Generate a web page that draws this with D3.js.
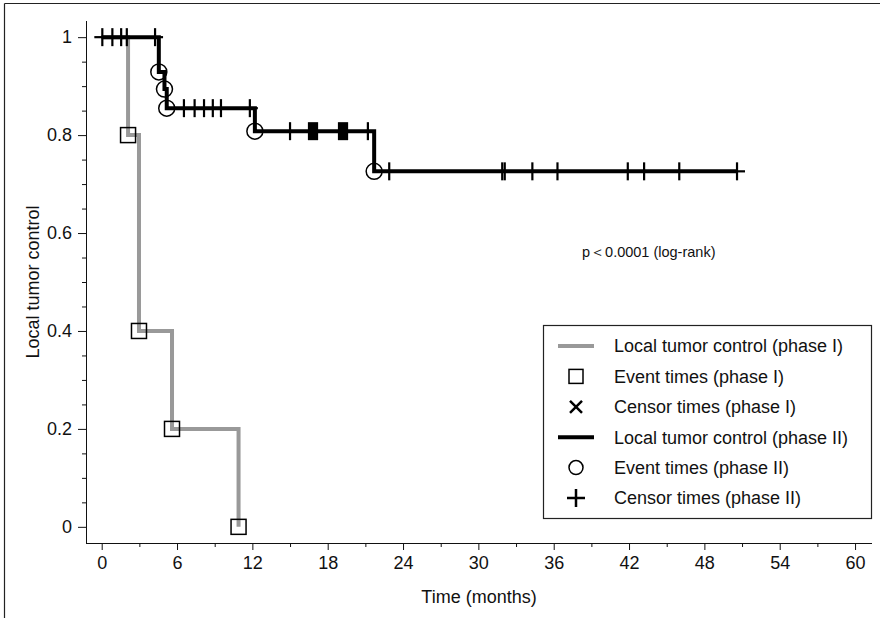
<!DOCTYPE html>
<html>
<head>
<meta charset="utf-8">
<script src="https://cdn.jsdelivr.net/npm/d3@7"></script>
<style>
  html, body { margin: 0; padding: 0; background: #fff; }
  svg { display: block; font-family: "Liberation Sans", Arial, Helvetica, sans-serif; }
</style>
</head>
<body>
<svg id="chart" width="880" height="618"></svg>
<script>
// ---------------- data ----------------
const xTicks = [0, 6, 12, 18, 24, 30, 36, 42, 48, 54, 60];
const yTicks = [0, 0.2, 0.4, 0.6, 0.8, 1];
const yTickLabels = ["0", "0.2", "0.4", "0.6", "0.8", "1"];

// Phase I: Kaplan-Meier steps (event times and survival after each event)
const phase1EventTimes = [2.1, 2.97, 5.6, 10.9];
const phase1EventValues = [0.8, 0.4, 0.2, 0];
const phase1CensorTimes = [];

// Phase II
const phase2EventTimes = [4.55, 5.0, 5.18, 12.2, 21.7];
const phase2EventValues = [0.929, 0.894, 0.855, 0.808, 0.726];
const phase2CensorTimes = [0.05, 0.85, 1.55, 2.0, 4.25, 6.55, 7.4, 8.15, 8.85, 9.5, 11.8,
  15.0, 16.51, 16.67, 16.83, 16.99, 17.15, 18.9, 19.06, 19.22, 19.38, 19.54, 21.2, 22.9,
  31.9, 32.1, 34.3, 36.3, 41.9, 43.2, 46.0, 50.6];

const legendLabels = [
  "Local tumor control (phase I)",
  "Event times (phase I)",
  "Censor times (phase I)",
  "Local tumor control (phase II)",
  "Event times (phase II)",
  "Censor times (phase II)"
];
const pText = "p\uFF1C0.0001 (log-rank)";
const xTitle = "Time (months)";
const yTitle = "Local tumor control";

// ---------------- helpers ----------------
function stepPoints(times, values, endTime) {
  const pts = [[0, 1]];
  let cur = 1;
  times.forEach((t, i) => { pts.push([t, cur]); cur = values[i]; pts.push([t, cur]); });
  if (endTime != null && endTime > times[times.length - 1]) pts.push([endTime, cur]);
  return pts;
}
function survAt(times, values, t) {
  let v = 1;
  times.forEach((et, i) => { if (et <= t) v = values[i]; });
  return v;
}

// ---------------- drawing ----------------
const svg = d3.select("#chart");
const GRAY = "#999999";

// frame lines
svg.append("line").attr("x1", 4.5).attr("x2", 880).attr("y1", 3.5).attr("y2", 3.5)
  .attr("stroke", "#222").attr("stroke-width", 1.2);
svg.append("line").attr("x1", 4.5).attr("x2", 4.5).attr("y1", 3.5).attr("y2", 618)
  .attr("stroke", "#222").attr("stroke-width", 1.2);

const x = d3.scaleLinear().domain([-1.25, 61.35]).range([86, 872]);
const y = d3.scaleLinear().domain([-0.033, 1.033]).range([543, 21]);

// axes
const xAxis = d3.axisBottom(x).tickValues(xTicks).tickSize(7).tickPadding(6).tickSizeOuter(0)
  .tickFormat(d3.format("d"));
const gx = svg.append("g").attr("transform", "translate(0,543)").call(xAxis);
gx.select(".domain").attr("d", "M86,0.5H872");
svg.append("g").attr("transform", "translate(0,543)")
  .call(d3.axisBottom(x).tickValues(d3.range(3, 61, 6)).tickSize(4).tickFormat("").tickSizeOuter(0))
  .select(".domain").remove();

const yAxis = d3.axisLeft(y).tickValues(yTicks).tickSize(8).tickPadding(6).tickSizeOuter(0)
  .tickFormat((d, i) => yTickLabels[i]);
const gy = svg.append("g").attr("transform", "translate(86,0)").call(yAxis);
gy.select(".domain").attr("d", "M0.5,21V543");
const minorY = d3.range(0, 21).map(i => i * 0.05).filter(v => Math.abs((v * 5) - Math.round(v * 5)) > 1e-6);
svg.append("g").attr("transform", "translate(86,0)")
  .call(d3.axisLeft(y).tickValues(minorY).tickSize(4).tickFormat("").tickSizeOuter(0))
  .select(".domain").remove();

svg.selectAll(".tick text").attr("font-size", 18).attr("fill", "#111")
  .attr("font-family", "'Liberation Sans', Arial, sans-serif");
svg.selectAll(".tick line, .domain").attr("stroke", "#111");

// axis titles
svg.append("text").attr("x", 479).attr("y", 603).attr("text-anchor", "middle")
  .attr("font-size", 18).attr("fill", "#111").text(xTitle);
svg.append("text").attr("transform", "translate(39,282) rotate(-90)").attr("text-anchor", "middle")
  .attr("font-size", 18).attr("fill", "#111").text(yTitle);

const line = d3.line().x(d => x(d[0])).y(d => y(d[1]));

// phase I curve
svg.append("path").datum(stepPoints(phase1EventTimes, phase1EventValues))
  .attr("d", line).attr("fill", "none").attr("stroke", GRAY).attr("stroke-width", 4)
  .attr("stroke-linejoin", "miter");

// phase II curve
const p2End = d3.max(phase2CensorTimes);
svg.append("path").datum(stepPoints(phase2EventTimes, phase2EventValues, p2End))
  .attr("d", line).attr("fill", "none").attr("stroke", "#000").attr("stroke-width", 4)
  .attr("stroke-linejoin", "miter");

// phase I event squares
svg.append("g").selectAll("rect").data(phase1EventTimes).join("rect")
  .attr("x", d => x(d) - 7.5).attr("y", (d, i) => y(phase1EventValues[i]) - 7.5)
  .attr("width", 15).attr("height", 15).attr("fill", "none").attr("stroke", "#000").attr("stroke-width", 1.5);

// phase II event circles
svg.append("g").selectAll("circle").data(phase2EventTimes).join("circle")
  .attr("cx", d => x(d)).attr("cy", (d, i) => y(phase2EventValues[i])).attr("r", 8)
  .attr("fill", "none").attr("stroke", "#000").attr("stroke-width", 1.5);

// phase II censor pluses
const gc = svg.append("g").attr("stroke", "#000").attr("stroke-width", 2.2);
phase2CensorTimes.forEach(t => {
  const cx = x(t), cy = y(survAt(phase2EventTimes, phase2EventValues, t));
  gc.append("line").attr("x1", cx).attr("x2", cx).attr("y1", cy - 9).attr("y2", cy + 9);
  gc.append("line").attr("x1", cx - 8).attr("x2", cx + 8).attr("y1", cy).attr("y2", cy);
});

// p-value text
svg.append("text").attr("x", 582).attr("y", 257).attr("font-size", 14.5).attr("fill", "#111").text(pText);

// legend
const lg = svg.append("g");
lg.append("rect").attr("x", 543.5).attr("y", 325.5).attr("width", 328).attr("height", 193)
  .attr("fill", "#fff").attr("stroke", "#222").attr("stroke-width", 1.2);
const rowY = i => 346 + i * 30.4;
const sx = 576;
legendLabels.forEach((lab, i) => {
  const cy = rowY(i);
  lg.append("text").attr("x", 614).attr("y", cy).attr("dy", "0.36em")
    .attr("font-size", 18).attr("fill", "#111").text(lab);
  if (i === 0 || i === 3) {
    lg.append("line").attr("x1", sx - 18).attr("x2", sx + 18).attr("y1", cy).attr("y2", cy)
      .attr("stroke", i === 0 ? GRAY : "#000").attr("stroke-width", 4);
  } else if (i === 1) {
    lg.append("rect").attr("x", sx - 7).attr("y", cy - 7).attr("width", 14).attr("height", 14)
      .attr("fill", "none").attr("stroke", "#000").attr("stroke-width", 1.5);
  } else if (i === 2) {
    lg.append("path").attr("d", `M${sx-6},${cy-6}L${sx+6},${cy+6}M${sx-6},${cy+6}L${sx+6},${cy-6}`)
      .attr("stroke", "#000").attr("stroke-width", 2.5);
  } else if (i === 4) {
    lg.append("circle").attr("cx", sx).attr("cy", cy).attr("r", 7)
      .attr("fill", "none").attr("stroke", "#000").attr("stroke-width", 1.5);
  } else {
    lg.append("path").attr("d", `M${sx-9},${cy}H${sx+9}M${sx},${cy-9}V${cy+9}`)
      .attr("stroke", "#000").attr("stroke-width", 2.5);
  }
});
</script>
</body>
</html>
